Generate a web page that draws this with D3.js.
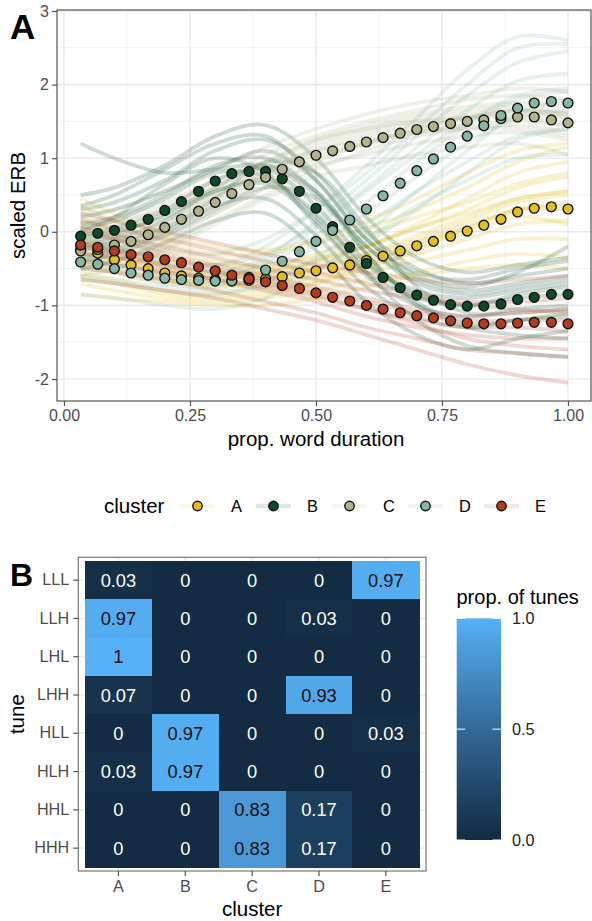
<!DOCTYPE html>
<meta charset="utf-8">
<script src="https://d3js.org/d3.v7.min.js"></script>
<style>
  body { margin: 0; background: #fff; }
  text { font-family: "Liberation Sans", Arial, Helvetica, sans-serif; }
</style>
<div id="my_dataviz"></div>

<script>

// ---------- data ----------
var clusters = ["A", "B", "C", "D", "E"];
var clusterColors = ["#E3BF1B", "#0C4A27", "#B1B38A", "#86B7A4", "#B43C1D"];

// time points of the cluster means (prop. word duration)
var timePoints = [0.033, 0.067, 0.100, 0.133, 0.167, 0.200, 0.233, 0.267, 0.300, 0.333,
                  0.367, 0.400, 0.433, 0.467, 0.500, 0.533, 0.567, 0.600, 0.633, 0.667,
                  0.700, 0.733, 0.767, 0.800, 0.833, 0.867, 0.900, 0.933, 0.967, 1.000];

var meanA = [-0.24, -0.29, -0.38, -0.45, -0.50, -0.56, -0.60, -0.63, -0.65, -0.66,
             -0.66, -0.64, -0.61, -0.56, -0.53, -0.49, -0.45, -0.39, -0.33, -0.26,
             -0.19, -0.13, -0.06, 0.01, 0.09, 0.17, 0.27, 0.32, 0.34, 0.31];
var meanB = [-0.06, -0.02, 0.02, 0.09, 0.17, 0.29, 0.41, 0.55, 0.69, 0.79,
             0.82, 0.82, 0.72, 0.55, 0.32, 0.07, -0.21, -0.43, -0.62, -0.76,
             -0.86, -0.93, -0.99, -1.01, -1.01, -0.98, -0.92, -0.89, -0.85, -0.85];
var meanC = [-0.26, -0.24, -0.18, -0.13, -0.04, 0.06, 0.17, 0.28, 0.40, 0.52,
             0.64, 0.74, 0.85, 0.95, 1.04, 1.10, 1.16, 1.22, 1.28, 1.34,
             1.39, 1.43, 1.47, 1.50, 1.52, 1.54, 1.56, 1.56, 1.52, 1.48];
var meanD = [-0.41, -0.44, -0.50, -0.56, -0.59, -0.63, -0.65, -0.66, -0.67, -0.67,
             -0.62, -0.52, -0.40, -0.27, -0.13, 0.02, 0.16, 0.31, 0.49, 0.66,
             0.83, 0.99, 1.15, 1.30, 1.44, 1.58, 1.68, 1.75, 1.77, 1.75];
var meanE = [-0.18, -0.21, -0.26, -0.31, -0.34, -0.38, -0.42, -0.48, -0.53, -0.59,
             -0.64, -0.68, -0.73, -0.77, -0.83, -0.89, -0.94, -1.00, -1.05, -1.10,
             -1.14, -1.17, -1.21, -1.24, -1.25, -1.25, -1.24, -1.23, -1.23, -1.25];

// individual word contours (read at these knots)
var knots = [0.033, 0.1, 0.2, 0.3, 0.4, 0.5, 0.6, 0.7, 0.8, 0.9, 1.0];

var contoursA = [
  [0.35, 0.15, -0.15, -0.30, -0.30, -0.15, 0.05, 0.30, 0.60, 0.95, 1.15],
  [0.10, -0.10, -0.35, -0.45, -0.45, -0.35, -0.20, 0.05, 0.30, 0.60, 0.75],
  [-0.05, -0.20, -0.45, -0.55, -0.55, -0.45, -0.30, -0.10, 0.15, 0.40, 0.50],
  [-0.25, -0.40, -0.55, -0.65, -0.60, -0.50, -0.35, -0.15, 0.05, 0.30, 0.35],
  [-0.40, -0.50, -0.65, -0.75, -0.70, -0.60, -0.45, -0.30, -0.10, 0.10, 0.15],
  [-0.55, -0.65, -0.80, -0.85, -0.80, -0.70, -0.55, -0.40, -0.25, -0.10, -0.10],
  [-0.70, -0.80, -0.90, -0.95, -0.90, -0.80, -0.65, -0.55, -0.40, -0.30, -0.35],
  [-0.15, -0.30, -0.60, -0.70, -0.75, -0.65, -0.50, -0.25, 0.00, 0.20, 0.10],
  [-0.30, -0.35, -0.45, -0.55, -0.55, -0.40, -0.20, 0.05, 0.25, 0.45, 0.55],
  [-0.85, -0.90, -0.95, -1.00, -1.00, -0.90, -0.75, -0.60, -0.50, -0.45, -0.50],
  [0.20, 0.00, -0.25, -0.40, -0.50, -0.40, -0.20, 0.10, 0.45, 0.80, 0.95],
  [-0.45, -0.55, -0.70, -0.70, -0.65, -0.50, -0.30, -0.05, 0.20, 0.45, 0.55],
  [0.45, 0.25, -0.05, -0.20, -0.25, -0.10, 0.15, 0.45, 0.80, 1.10, 1.20],
  [-0.60, -0.70, -0.85, -0.90, -0.85, -0.70, -0.45, -0.15, 0.10, 0.30, 0.30],
  [-0.10, -0.25, -0.50, -0.60, -0.60, -0.55, -0.40, -0.20, 0.05, 0.30, 0.40],
  [-0.35, -0.45, -0.60, -0.60, -0.50, -0.30, -0.05, 0.20, 0.40, 0.65, 0.80]
];
var contoursB = [
  [0.50, 0.60, 0.90, 1.30, 1.45, 1.00, 0.20, -0.35, -0.55, -0.45, -0.35],
  [0.30, 0.40, 0.70, 1.10, 1.25, 0.80, 0.00, -0.50, -0.70, -0.60, -0.50],
  [0.10, 0.20, 0.50, 0.90, 1.00, 0.55, -0.20, -0.70, -0.85, -0.75, -0.65],
  [-0.05, 0.05, 0.30, 0.70, 0.85, 0.35, -0.40, -0.85, -1.00, -0.90, -0.85],
  [-0.20, -0.10, 0.15, 0.55, 0.65, 0.15, -0.60, -1.00, -1.15, -1.05, -1.00],
  [-0.35, -0.25, 0.00, 0.35, 0.45, -0.05, -0.75, -1.15, -1.30, -1.20, -1.15],
  [-0.50, -0.40, -0.15, 0.15, 0.25, -0.25, -0.95, -1.40, -1.60, -1.45, -1.35],
  [1.20, 1.00, 0.80, 0.85, 0.90, 0.50, -0.20, -0.65, -0.80, -0.70, -0.60],
  [0.00, 0.20, 0.65, 1.00, 0.80, 0.10, -0.55, -0.90, -1.00, -0.85, -0.75],
  [-0.25, -0.15, 0.05, 0.45, 0.95, 0.80, 0.05, -0.75, -1.10, -1.10, -1.05],
  [0.20, 0.30, 0.55, 0.85, 1.10, 0.70, -0.10, -0.60, -0.75, -0.55, -0.20],
  [-0.10, 0.00, 0.20, 0.55, 0.70, 0.25, -0.55, -1.20, -1.55, -1.65, -1.70],
  [0.35, 0.50, 0.85, 1.20, 1.30, 0.70, -0.10, -0.55, -0.65, -0.50, -0.40],
  [-0.40, -0.30, -0.05, 0.30, 0.60, 0.45, -0.30, -0.95, -1.25, -1.20, -1.10],
  [0.05, 0.15, 0.45, 0.80, 0.75, 0.20, -0.45, -0.80, -0.90, -0.80, -0.70],
  [-0.15, -0.05, 0.25, 0.60, 0.90, 0.55, -0.30, -1.00, -1.30, -1.40, -1.45]
];
var contoursC = [
  [0.25, 0.30, 0.55, 0.85, 1.15, 1.40, 1.60, 1.75, 1.85, 1.95, 1.90],
  [0.05, 0.10, 0.35, 0.65, 0.95, 1.25, 1.45, 1.60, 1.70, 1.75, 1.70],
  [-0.15, -0.10, 0.15, 0.50, 0.80, 1.10, 1.30, 1.45, 1.55, 1.60, 1.55],
  [-0.30, -0.20, 0.05, 0.40, 0.75, 1.05, 1.20, 1.35, 1.45, 1.50, 1.45],
  [-0.45, -0.35, -0.10, 0.25, 0.60, 0.90, 1.05, 1.20, 1.30, 1.35, 1.25],
  [-0.60, -0.50, -0.25, 0.10, 0.45, 0.75, 0.90, 1.05, 1.15, 1.20, 1.05],
  [-0.25, -0.20, -0.05, 0.25, 0.60, 0.95, 1.20, 1.40, 1.55, 1.65, 1.60],
  [-0.35, -0.25, 0.10, 0.50, 0.85, 1.10, 1.25, 1.35, 1.40, 1.40, 1.30],
  [0.10, 0.15, 0.30, 0.55, 0.90, 1.20, 1.40, 1.55, 1.65, 1.70, 1.60],
  [-0.50, -0.40, -0.20, 0.15, 0.50, 0.85, 1.10, 1.30, 1.40, 1.45, 1.35],
  [0.00, 0.05, 0.25, 0.60, 0.95, 1.25, 1.40, 1.50, 1.55, 1.55, 1.45],
  [-0.40, -0.30, 0.00, 0.35, 0.70, 1.00, 1.20, 1.40, 1.55, 1.65, 1.60],
  [-0.20, -0.15, 0.10, 0.45, 0.80, 1.15, 1.35, 1.50, 1.60, 1.65, 1.55],
  [0.15, 0.20, 0.40, 0.70, 1.05, 1.30, 1.50, 1.65, 1.80, 1.85, 1.80]
];
var contoursD = [
  [-0.05, -0.10, -0.25, -0.30, -0.10, 0.30, 0.80, 1.40, 2.00, 2.50, 2.55],
  [-0.20, -0.25, -0.40, -0.45, -0.30, 0.10, 0.60, 1.15, 1.65, 2.05, 2.15],
  [-0.35, -0.45, -0.55, -0.60, -0.45, -0.05, 0.40, 0.95, 1.45, 1.80, 1.90],
  [-0.50, -0.55, -0.70, -0.75, -0.60, -0.20, 0.25, 0.75, 1.20, 1.55, 1.65],
  [-0.65, -0.70, -0.80, -0.85, -0.70, -0.35, 0.10, 0.55, 0.95, 1.30, 1.40],
  [-0.85, -0.90, -1.00, -1.05, -0.90, -0.55, -0.10, 0.35, 0.70, 1.00, 1.05],
  [-0.30, -0.40, -0.60, -0.70, -0.65, -0.40, 0.00, 0.55, 1.10, 1.60, 1.80],
  [-0.45, -0.50, -0.65, -0.65, -0.40, 0.05, 0.55, 1.05, 1.50, 1.85, 1.95],
  [-0.60, -0.65, -0.75, -0.80, -0.75, -0.50, -0.15, 0.30, 0.80, 1.25, 1.40],
  [-0.15, -0.25, -0.45, -0.55, -0.35, 0.15, 0.70, 1.30, 1.85, 2.30, 2.45],
  [-0.10, -0.20, -0.40, -0.45, -0.20, 0.30, 0.90, 1.55, 2.20, 2.65, 2.60]
];
var contoursE = [
  [0.25, 0.15, 0.00, -0.15, -0.30, -0.45, -0.55, -0.65, -0.70, -0.65, -0.60],
  [0.05, -0.05, -0.20, -0.35, -0.50, -0.65, -0.80, -0.90, -0.95, -0.95, -0.90],
  [-0.15, -0.25, -0.35, -0.50, -0.65, -0.80, -0.95, -1.10, -1.20, -1.20, -1.20],
  [-0.30, -0.35, -0.50, -0.65, -0.80, -0.95, -1.15, -1.30, -1.40, -1.45, -1.45],
  [-0.50, -0.55, -0.65, -0.80, -0.95, -1.10, -1.30, -1.45, -1.60, -1.65, -1.70],
  [-0.65, -0.70, -0.80, -0.90, -1.05, -1.20, -1.40, -1.60, -1.80, -1.95, -2.05],
  [-0.20, -0.30, -0.45, -0.55, -0.70, -0.85, -1.05, -1.20, -1.30, -1.30, -1.35],
  [0.00, -0.10, -0.30, -0.45, -0.60, -0.75, -0.90, -1.05, -1.15, -1.10, -1.05],
  [-0.40, -0.45, -0.55, -0.65, -0.75, -0.90, -1.05, -1.25, -1.45, -1.55, -1.60],
  [0.15, 0.05, -0.10, -0.25, -0.40, -0.55, -0.70, -0.85, -1.00, -1.05, -1.10]
];

var xTicksA = [0, 0.25, 0.5, 0.75, 1];
var yTicksA = [-2, -1, 0, 1, 2, 3];

// panel B: proportion of tunes per cluster
var tunes = ["LLL", "LLH", "LHL", "LHH", "HLL", "HLH", "HHL", "HHH"];
var propLLL = [0.03, 0, 0, 0, 0.97];
var propLLH = [0.97, 0, 0, 0.03, 0];
var propLHL = [1, 0, 0, 0, 0];
var propLHH = [0.07, 0, 0, 0.93, 0];
var propHLL = [0, 0.97, 0, 0, 0.03];
var propHLH = [0.03, 0.97, 0, 0, 0];
var propHHL = [0, 0, 0.83, 0.17, 0];
var propHHH = [0, 0, 0.83, 0.17, 0];
var fillTicks = [0, 0.5, 1];

var means = [meanA, meanB, meanC, meanD, meanE];
var contours = [contoursA, contoursB, contoursC, contoursD, contoursE];
var props = [propLLL, propLLH, propLHL, propLHH, propHLL, propHLH, propHHL, propHHH];

// ---------- svg ----------
var W = 592, H = 921;
var svg = d3.select("#my_dataviz")
  .append("svg")
    .attr("width", W)
    .attr("height", H);

var tickGrey = "#4D4D4D";
var borderGrey = "#555555";

// =================== panel A ===================
var pA = {left: 57, right: 591, top: 10, bottom: 401};

var x = d3.scaleLinear().domain([0, 1]).range([64, 568]);
var y = d3.scaleLinear().domain([-2, 3]).range([379, 11]);

var gA = svg.append("g");

// minor grid
[0.125, 0.375, 0.625, 0.875].forEach(function(v) {
  gA.append("line").attr("x1", x(v)).attr("x2", x(v))
    .attr("y1", pA.top).attr("y2", pA.bottom)
    .attr("stroke", "#F2F2F2").attr("stroke-width", 0.9);
});
[-1.5, -0.5, 0.5, 1.5, 2.5].forEach(function(v) {
  gA.append("line").attr("y1", y(v)).attr("y2", y(v))
    .attr("x1", pA.left).attr("x2", pA.right)
    .attr("stroke", "#F2F2F2").attr("stroke-width", 0.9);
});
// major grid
xTicksA.forEach(function(v) {
  gA.append("line").attr("x1", x(v)).attr("x2", x(v))
    .attr("y1", pA.top).attr("y2", pA.bottom)
    .attr("stroke", "#EBEBEB").attr("stroke-width", 1.6);
});
yTicksA.forEach(function(v) {
  gA.append("line").attr("y1", y(v)).attr("y2", y(v))
    .attr("x1", pA.left).attr("x2", pA.right)
    .attr("stroke", "#EBEBEB").attr("stroke-width", 1.6);
});

// individual contours
var contourLine = d3.line()
  .x(function(d, i) { return x(knots[i]); })
  .y(function(d) { return y(d); })
  .curve(d3.curveCatmullRom.alpha(0.5));

contours.forEach(function(set, ci) {
  gA.selectAll(null)
    .data(set)
    .enter()
    .append("path")
      .attr("d", contourLine)
      .attr("fill", "none")
      .attr("stroke", clusterColors[ci])
      .attr("stroke-opacity", 0.2)
      .attr("stroke-width", 3.8)
      .attr("stroke-linecap", "butt");
});

// cluster means
means.forEach(function(m, ci) {
  gA.selectAll(null)
    .data(m)
    .enter()
    .append("circle")
      .attr("cx", function(d, i) { return x(timePoints[i]); })
      .attr("cy", function(d) { return y(d); })
      .attr("r", 4.9)
      .attr("fill", clusterColors[ci])
      .attr("stroke", "#111")
      .attr("stroke-width", 1.4);
});

// border
gA.append("rect")
  .attr("x", pA.left).attr("y", pA.top)
  .attr("width", pA.right - pA.left).attr("height", pA.bottom - pA.top)
  .attr("fill", "none").attr("stroke", borderGrey).attr("stroke-width", 1.2);

// axes
var axA_y = gA.append("g")
  .attr("transform", "translate(" + pA.left + ",0)")
  .call(d3.axisLeft(y).tickValues(yTicksA).tickSize(5).tickPadding(3).tickFormat(d3.format("d")));
var axA_x = gA.append("g")
  .attr("transform", "translate(0," + pA.bottom + ")")
  .call(d3.axisBottom(x).tickValues(xTicksA).tickSize(5).tickPadding(4).tickFormat(d3.format(".2f")));

[axA_y, axA_x].forEach(function(a) {
  a.select(".domain").remove();
  a.selectAll("line").attr("stroke", borderGrey).attr("stroke-width", 1.2);
  a.selectAll("text").attr("fill", tickGrey).style("font-size", "16px")
    .style("font-family", "'Liberation Sans', Arial, sans-serif");
});
axA_y.selectAll("text").text(function(d) { return d < 0 ? "-" + Math.abs(d) : d; });

svg.append("text")
  .attr("x", (pA.left + pA.right) / 2 - 8)
  .attr("y", 446)
  .attr("text-anchor", "middle")
  .style("font-size", "20.5px")
  .text("prop. word duration");

svg.append("text")
  .attr("transform", "translate(25," + ((pA.top + pA.bottom) / 2) + ")rotate(-90)")
  .attr("text-anchor", "middle")
  .style("font-size", "20.5px")
  .text("scaled ERB");

svg.append("text")
  .attr("x", 10).attr("y", 39)
  .style("font-size", "35px").style("font-weight", "bold")
  .text("A");

// legend
var legY = 506;
svg.append("text")
  .attr("x", 104).attr("y", legY + 7)
  .style("font-size", "20.5px")
  .text("cluster");

clusters.forEach(function(c, i) {
  var kx = 180 + i * 76;
  svg.append("line")
    .attr("x1", kx).attr("x2", kx + 35)
    .attr("y1", legY).attr("y2", legY)
    .attr("stroke", clusterColors[i]).attr("stroke-opacity", 0.12)
    .attr("stroke-width", 4.5);
  svg.append("circle")
    .attr("cx", kx + 17.5).attr("cy", legY).attr("r", 4.7)
    .attr("fill", clusterColors[i]).attr("stroke", "#111").attr("stroke-width", 1.4);
  svg.append("text")
    .attr("x", kx + 51).attr("y", legY + 6)
    .style("font-size", "16.4px")
    .text(c);
});

// =================== panel B ===================
var pB = {left: 78.3, right: 426, top: 557.3, bottom: 871};

var xB = d3.scaleBand().domain(clusters).range([85, 419.3]);
var yB = d3.scaleBand().domain(tunes).range([561, 867.3]);
var fill = d3.scaleLinear().domain([0, 1]).range(["#132B43", "#56B1F7"]).interpolate(d3.interpolateLab);

var gB = svg.append("g");

// grid, visible only in the margin around the tiles
clusters.forEach(function(c) {
  var cx = xB(c) + xB.bandwidth() / 2;
  gB.append("line").attr("x1", cx).attr("x2", cx)
    .attr("y1", pB.top).attr("y2", pB.bottom).attr("stroke", "#EBEBEB").attr("stroke-width", 1.4);
});
tunes.forEach(function(t) {
  var cy = yB(t) + yB.bandwidth() / 2;
  gB.append("line").attr("y1", cy).attr("y2", cy)
    .attr("x1", pB.left).attr("x2", pB.right).attr("stroke", "#EBEBEB").attr("stroke-width", 1.4);
});

var cells = [];
tunes.forEach(function(t, ti) {
  clusters.forEach(function(c, ci) {
    cells.push({tune: t, cluster: c, value: props[ti][ci]});
  });
});

gB.selectAll("rect.tile")
  .data(cells)
  .enter()
  .append("rect")
    .attr("class", "tile")
    .attr("x", function(d) { return xB(d.cluster); })
    .attr("y", function(d) { return yB(d.tune); })
    .attr("width", xB.bandwidth() + 0.6)
    .attr("height", yB.bandwidth() + 0.6)
    .attr("shape-rendering", "crispEdges")
    .attr("fill", function(d) { return fill(d.value); });

gB.selectAll("text.lab")
  .data(cells)
  .enter()
  .append("text")
    .attr("class", "lab")
    .attr("x", function(d) { return xB(d.cluster) + xB.bandwidth() / 2; })
    .attr("y", function(d) { return yB(d.tune) + yB.bandwidth() / 2; })
    .attr("dy", "0.36em")
    .attr("text-anchor", "middle")
    .style("font-size", "18.3px")
    .attr("fill", function(d) { return d.value > 0.5 ? "#111" : "#fff"; })
    .text(function(d) { return d.value; });

gB.append("rect")
  .attr("x", pB.left).attr("y", pB.top)
  .attr("width", pB.right - pB.left).attr("height", pB.bottom - pB.top)
  .attr("fill", "none").attr("stroke", "#777").attr("stroke-width", 1.2);

var axB_y = gB.append("g")
  .attr("transform", "translate(" + pB.left + ",0)")
  .call(d3.axisLeft(yB).tickSize(5).tickPadding(4));
var axB_x = gB.append("g")
  .attr("transform", "translate(0," + pB.bottom + ")")
  .call(d3.axisBottom(xB).tickSize(5).tickPadding(4));

[axB_y, axB_x].forEach(function(a) {
  a.select(".domain").remove();
  a.selectAll("line").attr("stroke", borderGrey).attr("stroke-width", 1.2);
  a.selectAll("text").attr("fill", tickGrey).style("font-size", "16.2px")
    .style("font-family", "'Liberation Sans', Arial, sans-serif");
});

svg.append("text")
  .attr("x", (85 + 419.3) / 2)
  .attr("y", 916)
  .attr("text-anchor", "middle")
  .style("font-size", "20.5px")
  .text("cluster");

svg.append("text")
  .attr("transform", "translate(24," + ((561 + 867.3) / 2) + ")rotate(-90)")
  .attr("text-anchor", "middle")
  .style("font-size", "20.5px")
  .text("tune");

svg.append("text")
  .attr("x", 10).attr("y", 586)
  .style("font-size", "32px").style("font-weight", "bold")
  .text("B");

// colour bar
var cb = {x: 456.7, y: 618.3, w: 44.3, h: 221.7};
var cbY = d3.scaleLinear().domain([0, 1]).range([cb.y + cb.h, cb.y]);

var grad = svg.append("defs").append("linearGradient")
  .attr("id", "cbgrad").attr("x1", 0).attr("y1", 1).attr("x2", 0).attr("y2", 0);
d3.range(0, 1.0001, 0.1).forEach(function(t) {
  grad.append("stop").attr("offset", t).attr("stop-color", fill(t));
});

svg.append("rect")
  .attr("x", cb.x).attr("y", cb.y).attr("width", cb.w).attr("height", cb.h)
  .attr("fill", "url(#cbgrad)");

fillTicks.forEach(function(v) {
  svg.append("line").attr("x1", cb.x).attr("x2", cb.x + 8.5)
    .attr("y1", cbY(v)).attr("y2", cbY(v)).attr("stroke", "#fff").attr("stroke-width", 1);
  svg.append("line").attr("x1", cb.x + cb.w - 8.5).attr("x2", cb.x + cb.w)
    .attr("y1", cbY(v)).attr("y2", cbY(v)).attr("stroke", "#fff").attr("stroke-width", 1);
  svg.append("text")
    .attr("x", cb.x + cb.w + 11).attr("y", cbY(v)).attr("dy", "0.36em")
    .style("font-size", "16.2px").attr("fill", "#222")
    .text(d3.format(".1f")(v));
});

svg.append("text")
  .attr("x", 456.5).attr("y", 604)
  .style("font-size", "20px")
  .text("prop. of tunes");

</script>
